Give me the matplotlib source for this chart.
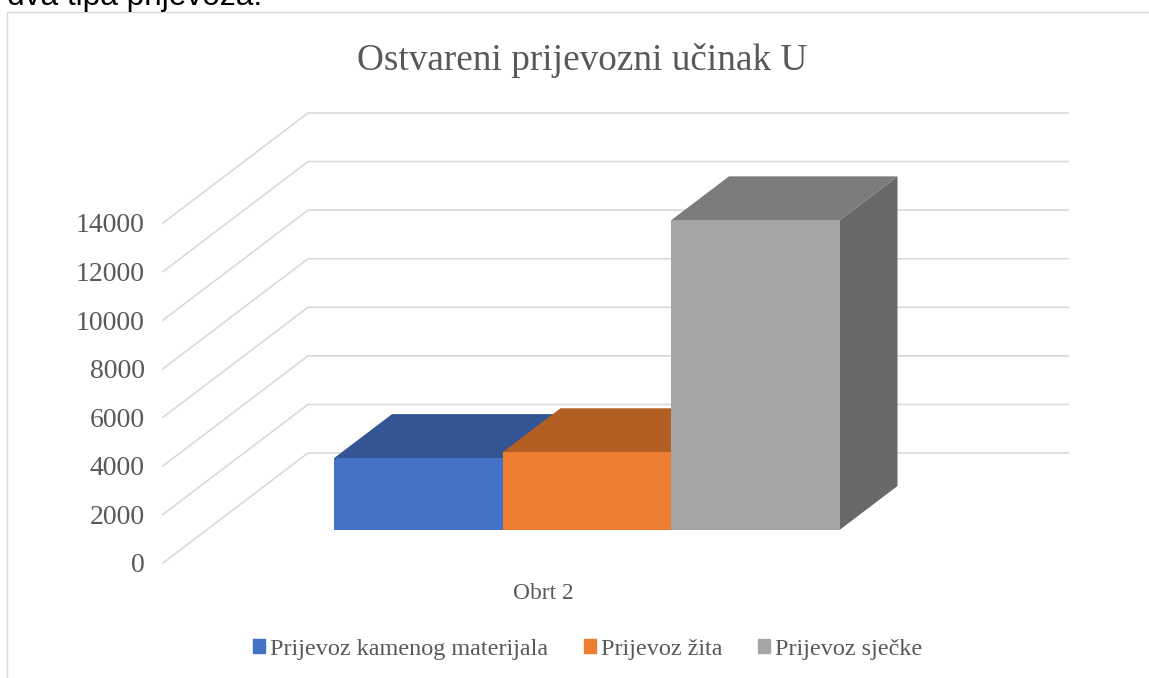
import matplotlib
matplotlib.use("Agg")
import matplotlib.pyplot as plt
from matplotlib.lines import Line2D
from matplotlib.patches import Patch

W, H = 1149, 678
series_names = ["Prijevoz kamenog materijala", "Prijevoz žita", "Prijevoz sječke"]
series_values = [2960, 3200, 12750]
category = "Obrt 2"
y_ticks = [0, 2000, 4000, 6000, 8000, 10000, 12000, 14000]
title = "Ostvareni prijevozni učinak U"
front_colors = ["#4472C4", "#ED7D31", "#A5A5A5"]
top_colors = ["#335593", "#B35E22", "#7C7C7C"]
side_colors = ["#2C4A80", "#9E521D", "#696969"]

SERIF = "Liberation Serif"
TEXT = "#595959"
GRID = "#D9D9D9"

fig = plt.figure(figsize=(W / 100, H / 100), dpi=100, facecolor="white")
px_l, px_r, px_b, px_t = 163, 923, 563, 223
ax = fig.add_axes([px_l / W, 1 - px_b / H, (px_r - px_l) / W, (px_b - px_t) / H])
ax.set_xlim(0, 1)
ax.set_ylim(0, 14000)
ax.patch.set_visible(False)
for s in ax.spines.values():
    s.set_visible(False)

# oblique depth, expressed in the axes' own units
DEPTH_X = 145 / 760
DEPTH_Y = 110 / 340 * 14000


def proj(x, v, d):
    return x + d * DEPTH_X, v + d * DEPTH_Y


for v in y_ticks:
    p0 = proj(0, v, 0)
    p1 = proj(0, v, 1)
    p2 = proj(1, v, 1)
    ax.plot([p0[0], p1[0], p2[0]], [p0[1], p1[1], p2[1]], color=GRID, lw=1.2,
            clip_on=False, zorder=1, solid_joinstyle="miter")

D1, D2 = 0.30, 0.70
BAR_START = 0.1678
BAR_W = 0.2217
for i, v in enumerate(series_values):
    x0 = BAR_START + i * BAR_W
    x1 = x0 + BAR_W
    pts_front = [proj(x0, 0, D1), proj(x1, 0, D1), proj(x1, v, D1), proj(x0, v, D1)]
    pts_top = [proj(x0, v, D1), proj(x1, v, D1), proj(x1, v, D2), proj(x0, v, D2)]
    pts_side = [proj(x1, 0, D1), proj(x1, 0, D2), proj(x1, v, D2), proj(x1, v, D1)]
    z = 2 + i
    ax.fill(*zip(*pts_side), color=side_colors[i], lw=0, clip_on=False, zorder=z)
    ax.fill(*zip(*pts_top), color=top_colors[i], lw=0, clip_on=False, zorder=z)
    ax.fill(*zip(*pts_front), color=front_colors[i], lw=0, clip_on=False, zorder=z)

ax.set_yticks(y_ticks)
ax.set_yticklabels([str(t) for t in y_ticks], family=SERIF, fontsize=20, color=TEXT)
ax.set_xticks([0.5])
ax.set_xticklabels([category], family=SERIF, fontsize=16.8, color=TEXT)
ax.tick_params(axis="y", length=0, pad=13)
ax.tick_params(axis="x", length=0, pad=14.5)

fig.text(582 / W, 1 - 60 / H, title, family=SERIF, fontsize=26.8, color=TEXT,
         ha="center", va="center")

handles = [Patch(color=c, label=n) for c, n in zip(front_colors, series_names)]
fig.legend(handles=handles, loc="center", bbox_to_anchor=(587.5 / W, 1 - 649 / H), ncol=3,
           frameon=False, prop={"family": SERIF, "size": 17.4}, labelcolor=TEXT,
           handlelength=0.5, handleheight=0.5, handletextpad=0.2, columnspacing=1.47,
           borderpad=0, borderaxespad=0)

# chart border and the clipped body text above it
fig.add_artist(Line2D([6.5 / W, 6.5 / W, 1], [0, 1 - 12 / H, 1 - 12 / H],
                      color=GRID, lw=1, transform=fig.transFigure))
fig.text(7 / W, 1 - 5 / H, "dva tipa prijevoza.", family="Liberation Sans", fontsize=22.8,
         color="black", ha="left", va="baseline")

fig.savefig("out.png", dpi=100, facecolor="white")
